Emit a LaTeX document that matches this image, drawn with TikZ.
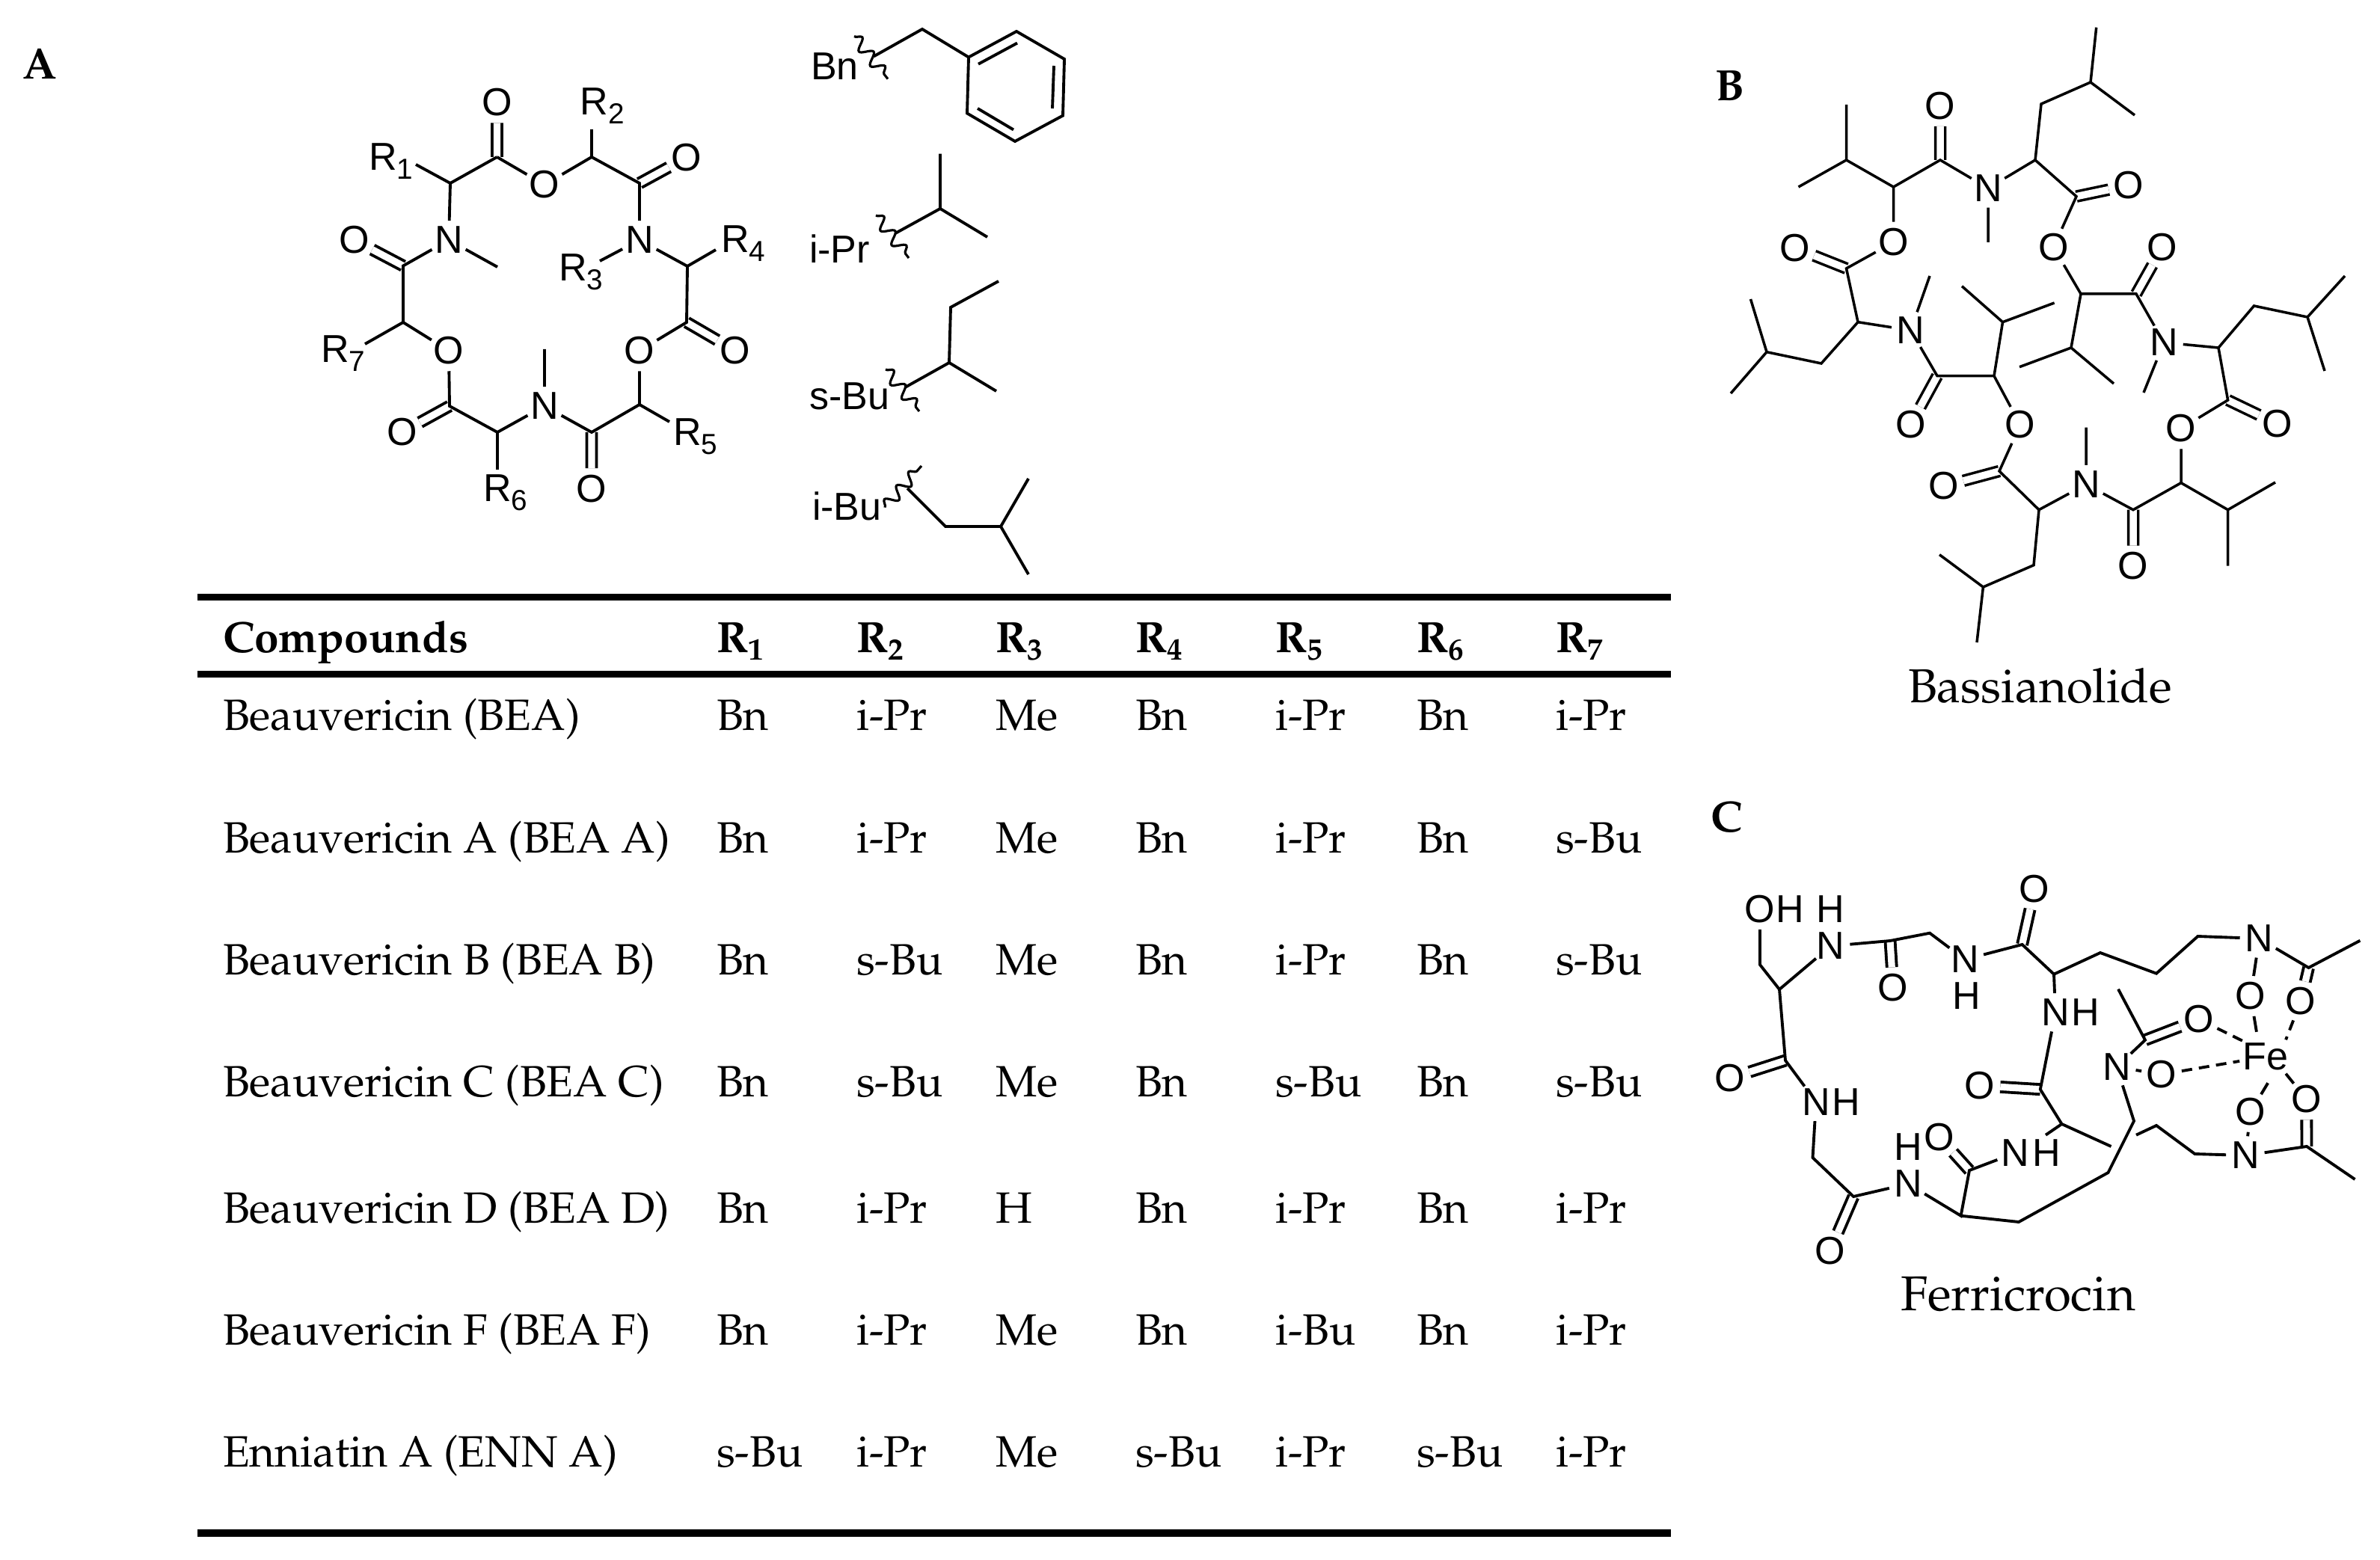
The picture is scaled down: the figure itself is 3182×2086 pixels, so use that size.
\documentclass[tikz,border=0pt]{standalone}
\usepackage{fontspec}
\usetikzlibrary{decorations.pathmorphing}
\newfontfamily\chemfont{Liberation Sans}
\newcommand{\tabfont}{\fontencoding{OT1}\fontfamily{ppl}\fontsize{16.65}{18}\selectfont}
\newcommand{\rsub}[1]{R\raisebox{-.22em}{\fontsize{11}{11}\selectfont #1}}
\newcommand{\hsub}[1]{R\textsubscript{#1}}
\tikzstyle{l1}=[line width=1.1pt]
\tikzstyle{l2}=[line width=1pt]
\tikzstyle{atom}=[circle, inner sep=0pt, outer sep=0pt, font=\chemfont\fontsize{14.8}{15}\selectfont]
\tikzstyle{chem}=[anchor=base west, inner sep=0pt, outer sep=0pt, font=\chemfont\fontsize{14.8}{15}\selectfont]
\tikzstyle{dbl}=[double, double distance=2.6pt, line width=1.1pt]
\tikzstyle{dbl2}=[double, double distance=2.7pt, line width=1pt]
\tikzstyle{coord}=[l1, dash pattern=on 4pt off 2.6pt]
\tikzstyle{wavy}=[line width=0.9pt, decorate, decoration={snake, amplitude=2.2pt, segment length=7pt}]
\tikzstyle{cell}=[anchor=base west, inner sep=0pt, outer sep=0pt, font=\tabfont]
\tikzstyle{head}=[cell, font=\tabfont\bfseries]
\tikzstyle{panel}=[cell, font=\tabfont\bfseries]
\tikzstyle{hrule}=[line width=2.6pt]

\begin{document}
\begin{tikzpicture}[x=0.01cm, y=-0.01cm]
    \useasboundingbox (0,0) rectangle (3182,2086);

    \node (pa) [panel] at (31,106) {A};
    \node (pb) [panel] at (2293,135) {B};
    \node (pc) [panel] at (2287,1113) {C};

    % macrocycle with R groups
    \begin{scope}
        \coordinate (ac1) at (664.5,210);
        \coordinate (ac2) at (602,245);
        \coordinate (ac3) at (539,355.5);
        \coordinate (ac4) at (539,431);
        \coordinate (ac5) at (601,543);
        \coordinate (ac6) at (665,578);
        \coordinate (ac7) at (791,578);
        \coordinate (ac8) at (855,541);
        \coordinate (ac9) at (918,431);
        \coordinate (ac10) at (919,356);
        \coordinate (ac11) at (855,245);
        \coordinate (ac12) at (791,210);
        \coordinate (ame1) at (665,357);
        \coordinate (ame2) at (728,467);
        \coordinate (ar1e) at (556,220);
        \coordinate (ar2e) at (791,173);
        \coordinate (ar3e) at (802,349);
        \coordinate (ar4e) at (957,334);
        \coordinate (ar5e) at (895,564);
        \coordinate (ar6e) at (665,628);
        \coordinate (ar7e) at (488,460);
        \node (ao1) [atom] at (664.5,137) {O};
        \node (ao2) [atom] at (728,247) {O};
        \node (ao3) [atom] at (918,210.6) {O};
        \node (ao4) [atom] at (982.5,468.6) {O};
        \node (ao5) [atom] at (855,469) {O};
        \node (ao6) [atom] at (791,653.5) {O};
        \node (ao7) [atom] at (537.5,578) {O};
        \node (ao8) [atom] at (600,469) {O};
        \node (ao9) [atom] at (473.5,321) {O};
        \node (an1) [atom] at (855,321) {N};
        \node (an2) [atom] at (728,543) {N};
        \node (an3) [atom] at (600,321) {N};
        \node (ar1) [chem] at (493,228) {\rsub{1}};
        \node (ar2) [chem] at (775.5,154) {\rsub{2}};
        \node (ar3) [chem] at (747,376) {\rsub{3}};
        \node (ar4) [chem] at (964,338) {\rsub{4}};
        \node (ar5) [chem] at (900,596) {\rsub{5}};
        \node (ar6) [chem] at (646,670.6) {\rsub{6}};
        \node (ar7) [chem] at (429,485) {\rsub{7}};
        \draw[dbl] (ac1) -- (ao1) (ac11) -- (ao3) (ac9) -- (ao4) (ac7) -- (ao6) (ac5) -- (ao7) (ac3) -- (ao9);
        \draw[l1] (ac1) -- (ao2) -- (ac12) -- (ac11) -- (an1) -- (ac10) -- (ac9) -- (ao5) -- (ac8) -- (ac7) -- (an2) -- (ac6) -- (ac5) -- (ao8) -- (ac4) -- (ac3) -- (an3) -- (ac2) -- (ac1);
        \draw[l1] (an3) -- (ame1) (an2) -- (ame2) (ac2) -- (ar1e) (ac12) -- (ar2e) (an1) -- (ar3e) (ac10) -- (ar4e) (ac8) -- (ar5e) (ac6) -- (ar6e) (ac4) -- (ar7e);
    \end{scope}

    % side chains
    \begin{scope}
        \node (bn) [chem] at (1084,107) {Bn};
        \coordinate (w1a) at (1142,48.5);
        \coordinate (w1b) at (1187,105.6);
        \coordinate (s1) at (1168,75.5);
        \coordinate (s2) at (1233,39);
        \coordinate (r1) at (1295,76.5);
        \coordinate (r2) at (1359,42);
        \coordinate (r3) at (1423,79);
        \coordinate (r4) at (1421,154.6);
        \coordinate (r5) at (1357,189);
        \coordinate (r6) at (1293,151.5);
        \coordinate (i1a) at (1308,85.7);
        \coordinate (i1b) at (1360,57.6);
        \coordinate (i2a) at (1409,88);
        \coordinate (i2b) at (1407,145);
        \coordinate (i3a) at (1307,145);
        \coordinate (i3b) at (1355,173.5);
        \draw[wavy] (w1a) -- (w1b);
        \draw[l1] (s1) -- (s2) -- (r1);
        \draw[l1] (r1) -- (r2) -- (r3) -- (r4) -- (r5) -- (r6) -- cycle;
        \draw[l1] (i1a) -- (i1b) (i2a) -- (i2b) (i3a) -- (i3b);

        \node (ipr) [chem] at (1082,352) {i-Pr};
        \coordinate (w2a) at (1171,288);
        \coordinate (w2b) at (1215,345);
        \coordinate (p1) at (1197,312);
        \coordinate (p2) at (1257,279);
        \coordinate (p3) at (1257,205.6);
        \coordinate (p4) at (1320,317);
        \draw[wavy] (w2a) -- (w2b);
        \draw[l1] (p1) -- (p2) -- (p3) (p2) -- (p4);

        \node (sbu) [chem] at (1082,548) {s-Bu};
        \coordinate (w3a) at (1184,494);
        \coordinate (w3b) at (1229,550);
        \coordinate (q1) at (1210,518);
        \coordinate (q2) at (1269,485);
        \coordinate (q3) at (1271,411);
        \coordinate (q4) at (1335,376);
        \coordinate (q5) at (1332,523);
        \draw[wavy] (w3a) -- (w3b);
        \draw[l1] (q1) -- (q2) -- (q3) -- (q4) (q2) -- (q5);

        \node (ibu) [chem] at (1086,696) {i-Bu};
        \coordinate (w4a) at (1183,678.6);
        \coordinate (w4b) at (1232,623);
        \coordinate (t1) at (1213,653);
        \coordinate (t2) at (1264,704);
        \coordinate (t3) at (1338,704);
        \coordinate (t4) at (1375,640);
        \coordinate (t5) at (1375,768);
        \draw[wavy] (w4a) -- (w4b);
        \draw[l1] (t1) -- (t2) -- (t3) -- (t4) (t3) -- (t5);
    \end{scope}

    % table
    \begin{scope}
        \coordinate (ru1a) at (264,798.5);
        \coordinate (ru1b) at (2234,798.5);
        \coordinate (ru2a) at (264,901.5);
        \coordinate (ru2b) at (2234,901.5);
        \coordinate (ru3a) at (264,2050);
        \coordinate (ru3b) at (2234,2050);
        \draw[hrule] (ru1a) -- (ru1b) (ru2a) -- (ru2b) (ru3a) -- (ru3b);
        \node (h0) [head] at (298,873) {Compounds};
        \foreach \x/\t [count=\i] in {958/1,1145/2,1331/3,1518/4,1705/5,1894/6,2080/7}
            \node (h\i) [head] at (\x,873) {\hsub{\t}};
        \foreach \y/\n/\ra/\rb/\rc/\rd/\re/\rf/\rg [count=\i] in {
            977/Beauvericin (BEA)/Bn/i-Pr/Me/Bn/i-Pr/Bn/i-Pr,
            1140/Beauvericin A (BEA A)/Bn/i-Pr/Me/Bn/i-Pr/Bn/s-Bu,
            1303/Beauvericin B (BEA B)/Bn/s-Bu/Me/Bn/i-Pr/Bn/s-Bu,
            1466/Beauvericin C (BEA C)/Bn/s-Bu/Me/Bn/s-Bu/Bn/s-Bu,
            1635/Beauvericin D (BEA D)/Bn/i-Pr/H/Bn/i-Pr/Bn/i-Pr,
            1798/Beauvericin F (BEA F)/Bn/i-Pr/Me/Bn/i-Bu/Bn/i-Pr,
            1961/Enniatin A (ENN A)/s-Bu/i-Pr/Me/s-Bu/i-Pr/s-Bu/i-Pr}{
            \node (n\i) [cell] at (298,\y) {\n};
            \node (a\i) [cell] at (958,\y) {\ra};
            \node (b\i) [cell] at (1145,\y) {\rb};
            \node (c\i) [cell] at (1331,\y) {\rc};
            \node (d\i) [cell] at (1518,\y) {\rd};
            \node (e\i) [cell] at (1705,\y) {\re};
            \node (f\i) [cell] at (1894,\y) {\rf};
            \node (g\i) [cell] at (2080,\y) {\rg};
        }
    \end{scope}

    % bassianolide
    \begin{scope}
        \coordinate (bc1) at (2468.5,214);
        \coordinate (bc2) at (2531.5,250);
        \coordinate (bc3) at (2594,214);
        \coordinate (bc4) at (2721,214);
        \coordinate (bc5) at (2729,139);
        \coordinate (bc6) at (2795,110);
        \coordinate (bc7) at (2776,262.7);
        \coordinate (bc8) at (2782,393);
        \coordinate (bc9) at (2856,393);
        \coordinate (bc10) at (2966,465);
        \coordinate (bc11) at (3013.5,409);
        \coordinate (bc12) at (3085,424);
        \coordinate (bc13) at (2769,465);
        \coordinate (bc14) at (2978.6,535);
        \coordinate (bc15) at (2916,645.7);
        \coordinate (bc16) at (2978.6,681.7);
        \coordinate (bc17) at (2852,681.7);
        \coordinate (bc18) at (2726,681.7);
        \coordinate (bc19) at (2719,755.7);
        \coordinate (bc20) at (2651.4,785);
        \coordinate (bc21) at (2673,630);
        \coordinate (bc22) at (2666,502.7);
        \coordinate (bc23) at (2677.5,430.7);
        \coordinate (bc24) at (2590,502.7);
        \coordinate (bc25) at (2484,430.7);
        \coordinate (bc26) at (2435,486);
        \coordinate (bc27) at (2362,470.7);
        \coordinate (bc28) at (2468.5,359);
        \coordinate (bm1) at (2468.5,140);
        \coordinate (bm2) at (2404.5,250);
        \coordinate (bm3) at (2658,324);
        \coordinate (bm4) at (2802.7,36.7);
        \coordinate (bm5) at (2854,154);
        \coordinate (bm6) at (2866,525);
        \coordinate (bm7) at (3135,369);
        \coordinate (bm8) at (3108,496);
        \coordinate (bm9) at (2700,490.7);
        \coordinate (bm10) at (2826,513);
        \coordinate (bm11) at (3042,645);
        \coordinate (bm12) at (2978.6,756.7);
        \coordinate (bm13) at (2789,571.7);
        \coordinate (bm14) at (2593,741.7);
        \coordinate (bm15) at (2643,859);
        \coordinate (bm16) at (2623,382.7);
        \coordinate (bm17) at (2746.6,405);
        \coordinate (bm18) at (2580,369);
        \coordinate (bm19) at (2340.5,400);
        \coordinate (bm20) at (2314,526);
        \node (bo1) [atom] at (2594,141.7) {O};
        \node (bo2) [atom] at (2846,248) {O};
        \node (bo3) [atom] at (2745.5,330.7) {O};
        \node (bo4) [atom] at (2891,330.7) {O};
        \node (bo5) [atom] at (3044.6,566.7) {O};
        \node (bo6) [atom] at (2916,573) {O};
        \node (bo7) [atom] at (2852,757) {O};
        \node (bo8) [atom] at (2598.6,650) {O};
        \node (bo9) [atom] at (2701,568) {O};
        \node (bo10) [atom] at (2554.4,568) {O};
        \node (bo11) [atom] at (2400,331.7) {O};
        \node (bo12) [atom] at (2531.5,324) {O};
        \node (bn1) [atom] at (2658,251.7) {N};
        \node (bn2) [atom] at (2893,458) {N};
        \node (bn3) [atom] at (2789,647.7) {N};
        \node (bn4) [atom] at (2554.5,441.7) {N};
        \draw[dbl2] (bc3) -- (bo1) (bc7) -- (bo2) (bc9) -- (bo4) (bc14) -- (bo5) (bc17) -- (bo7) (bc21) -- (bo8) (bc24) -- (bo10) (bc28) -- (bo11);
        \draw[l2] (bc2) -- (bc3) -- (bn1) -- (bc4) -- (bc7) -- (bo3) -- (bc8) -- (bc9) -- (bn2) -- (bc10) -- (bc14) -- (bo6) -- (bc15) -- (bc17) -- (bn3) -- (bc18) -- (bc21) -- (bo9) -- (bc22) -- (bc24) -- (bn4) -- (bc25) -- (bc28) -- (bo12) -- (bc2);
        \draw[l2] (bc2) -- (bc1) -- (bm1) (bc1) -- (bm2);
        \draw[l2] (bn1) -- (bm3) (bn2) -- (bm6) (bn3) -- (bm13) (bn4) -- (bm18);
        \draw[l2] (bc4) -- (bc5) -- (bc6) -- (bm4) (bc6) -- (bm5);
        \draw[l2] (bc10) -- (bc11) -- (bc12) -- (bm7) (bc12) -- (bm8);
        \draw[l2] (bc8) -- (bc13) -- (bm9) (bc13) -- (bm10);
        \draw[l2] (bc15) -- (bc16) -- (bm11) (bc16) -- (bm12);
        \draw[l2] (bc18) -- (bc19) -- (bc20) -- (bm14) (bc20) -- (bm15);
        \draw[l2] (bc22) -- (bc23) -- (bm16) (bc23) -- (bm17);
        \draw[l2] (bc25) -- (bc26) -- (bc27) -- (bm19) (bc27) -- (bm20);
        \node (bname) [cell, font=\tabfont\fontsize{18.1}{20}\selectfont] at (2551,940) {Bassianolide};
    \end{scope}

    % ferricrocin
    \begin{scope}
        \coordinate (cc1) at (2353,1290);
        \coordinate (cc2) at (2379,1323);
        \coordinate (cc3) at (2527,1258);
        \coordinate (cc4) at (2580,1247.7);
        \coordinate (cc5) at (2703.6,1263);
        \coordinate (cc6) at (2746,1302.7);
        \coordinate (cc7) at (2808,1274);
        \coordinate (cc8) at (2883,1301.7);
        \coordinate (cc9) at (2938.4,1252);
        \coordinate (cc10) at (3086.5,1294);
        \coordinate (cc11) at (2868,1390.7);
        \coordinate (cc12) at (2727.8,1456.7);
        \coordinate (cc13) at (2756.5,1503);
        \coordinate (cc14) at (2853,1499);
        \coordinate (cc15) at (2818.5,1568);
        \coordinate (cc16) at (2883,1505);
        \coordinate (cc17) at (2934.4,1543);
        \coordinate (cc18) at (3084,1533);
        \coordinate (cc19) at (2633,1565);
        \coordinate (cc20) at (2621.6,1625.7);
        \coordinate (cc21) at (2699,1634);
        \coordinate (cc22) at (2478,1600);
        \coordinate (cc23) at (2423.5,1548);
        \coordinate (cc24) at (2387,1418);
        \coordinate (cm1) at (3155.4,1257.7);
        \coordinate (cm2) at (2832,1322.7);
        \coordinate (cm3) at (3148.5,1577);
        \coordinate (ce1) at (2822.5,1533);
        \coordinate (ce2) at (2856,1517.7);
        \coordinate (ce3) at (2735,1517.7);
        \node (co1) [atom] at (2353,1215.7) {O};
        \node (ch1) [atom] at (2393,1215.7) {H};
        \node (co2) [atom] at (2531,1320.7) {O};
        \node (co3) [atom] at (2720,1189) {O};
        \node (co4) [atom] at (3076,1339) {O};
        \node (co5) [atom] at (3009,1332) {O};
        \node (co6) [atom] at (2940,1363) {O};
        \node (co7) [atom] at (2890,1436.7) {O};
        \node (co8) [atom] at (2647,1451.7) {O};
        \node (co9) [atom] at (3009,1486.7) {O};
        \node (co10) [atom] at (3083.7,1470) {O};
        \node (co11) [atom] at (2593,1520.7) {O};
        \node (co12) [atom] at (2446.5,1673) {O};
        \node (co13) [atom] at (2313,1441.7) {O};
        \node (cn1) [atom] at (2447.6,1265) {N};
        \node (ch2) [atom] at (2447.6,1216) {H};
        \node (cn2) [atom] at (2627,1283) {N};
        \node (ch3) [atom] at (2629,1332) {H};
        \node (cn3) [atom] at (3020.5,1255) {N};
        \node (cn4) [atom] at (2830,1426.7) {N};
        \node (cn5) [atom] at (2748,1354) {N};
        \node (ch5) [atom] at (2788,1354) {H};
        \node (cn6) [atom] at (3002,1545) {N};
        \node (cn7) [atom] at (2694.5,1541.7) {N};
        \node (ch7) [atom] at (2736,1541.7) {H};
        \node (cn8) [atom] at (2551,1583) {N};
        \node (ch8) [atom] at (2551,1534) {H};
        \node (cn9) [atom] at (2428,1473.3) {N};
        \node (ch9) [atom] at (2468,1473.3) {H};
        \node (fe) [atom] at (3029,1413) {Fe};
        \draw[dbl] (cc3) -- (co2) (cc5) -- (co3) (cc10) -- (co4) (cc11) -- (co6) (cc12) -- (co8) (cc18) -- (co10) (cc19) -- (co11) (cc22) -- (co12) (cc24) -- (co13);
        \draw[l1] (cc2) -- (cc1) -- (co1) (cc2) -- (cn1) -- (cc3) -- (cc4) -- (cn2) -- (cc5) -- (cc6) -- (cc7) -- (cc8) -- (cc9) -- (cn3) -- (cc10) -- (cm1);
        \draw[l1] (cn3) -- (co5) (cc6) -- (cn5) -- (cc12) -- (cc13) -- (ce1) (cc13) -- (ce3);
        \draw[l1] (cn7) -- (cc19) -- (cc20) -- (cn8) (cc20) -- (cc21) -- (cc15) -- (cc14) -- (cn4) -- (cc11) -- (cm2) (cn4) -- (co7);
        \draw[l1] (ce2) -- (cc16) -- (cc17) -- (cn6) -- (cc18) -- (cm3) (cn6) -- (co9);
        \draw[l1] (cn8) -- (cc22) -- (cc23) -- (cn9) -- (cc24) -- (cc2);
        \draw[l1] (co5) -- (fe.110) (co9) -- (fe.-85) (co10) -- (fe.-40);
        \draw[coord] (co6) -- (fe.145) (co7) -- (fe) (co4) -- (fe.40);
        \node (cname) [cell, font=\tabfont\fontsize{18.6}{20}\selectfont] at (2541,1752) {Ferricrocin};
    \end{scope}
\end{tikzpicture}
\end{document}
